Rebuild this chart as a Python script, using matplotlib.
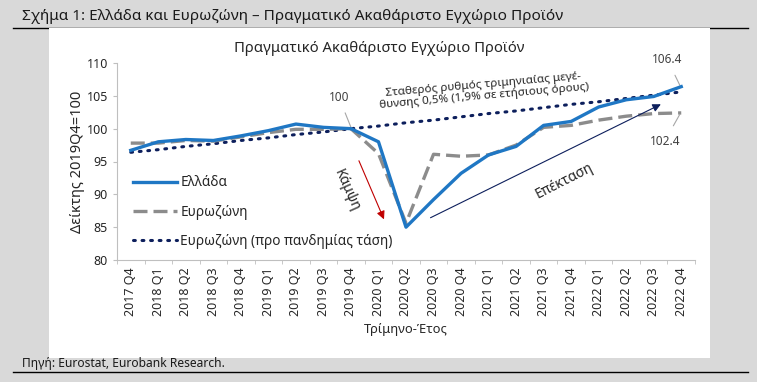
import numpy as np
import matplotlib.pyplot as plt
from matplotlib.patches import Rectangle
from matplotlib.lines import Line2D

plt.rcParams['font.family'] = ['Noto Sans', 'DejaVu Sans']

# quarters on the x axis
quarters = ['2017 Q4', '2018 Q1', '2018 Q2', '2018 Q3', '2018 Q4', '2019 Q1', '2019 Q2',
            '2019 Q3', '2019 Q4', '2020 Q1', '2020 Q2', '2020 Q3', '2020 Q4', '2021 Q1',
            '2021 Q2', '2021 Q3', '2021 Q4', '2022 Q1', '2022 Q2', '2022 Q3', '2022 Q4']

# index 2019Q4 = 100
greece = [96.7, 98.0, 98.35, 98.2, 98.9, 99.7, 100.7, 100.2, 100.0, 98.0, 85.0,
          89.2, 93.2, 96.0, 97.3, 100.5, 101.1, 103.3, 104.4, 104.9, 106.4]
eurozone = [97.8, 97.8, 98.2, 98.1, 98.75, 99.4, 99.9, 99.9, 100.0, 96.2, 85.6,
            96.1, 95.8, 96.0, 97.5, 100.2, 100.5, 101.3, 101.9, 102.3, 102.4]
trend = [96.4, 96.8, 97.3, 97.7, 98.2, 98.6, 99.1, 99.5, 100.0, 100.4, 100.9,
         101.3, 101.8, 102.3, 102.7, 103.2, 103.7, 104.1, 104.6, 105.1, 105.6]

blue = '#1f77c4'
grey = '#8c8c8c'
navy = '#0d1f5c'
txt = '#262626'

fig = plt.figure(figsize=(7.57, 3.82), dpi=100, facecolor='#d9d9d9')
W, H = 757.0, 382.0

# white panel and rules
fig.add_artist(Line2D([13/W, 748/W], [1-28/H, 1-28/H], color='black', lw=1.0, zorder=-2))
fig.add_artist(Line2D([13/W, 748/W], [1-372/H, 1-372/H], color='black', lw=1.0, zorder=-2))
fig.add_artist(Rectangle((49/W, 1-358/H), (710-49)/W, (358-28)/H, transform=fig.transFigure,
                         facecolor='white', edgecolor='none', zorder=-1))

fig.text(22/W, 1-17/H, 'Σχήμα 1: Ελλάδα και Ευρωζώνη – Πραγματικό Ακαθάριστο Εγχώριο Προϊόν',
         fontsize=11, color='#1a1a1a', va='center', ha='left')
fig.text(22/W, 1-364/H, 'Πηγή: Eurostat, Eurobank Research.', fontsize=8.7, color='#1a1a1a',
         va='center', ha='left')
fig.text(379/W, 1-48/H, 'Πραγματικό Ακαθάριστο Εγχώριο Προϊόν', fontsize=10.7, color=txt,
         ha='center', va='center')

ax = fig.add_axes([117/W, 1-260/H, (695-117)/W, (260-63)/H])
ax.set_facecolor('none')
x = np.arange(len(quarters))

ax.plot(x, greece, color=blue, lw=2.4, label='Ελλάδα', zorder=4)
ax.plot(x, eurozone, color=grey, lw=2.4, ls=(0, (4.2, 1.8)), label='Ευρωζώνη', zorder=3)
ax.plot(x, trend, color=navy, lw=2.2, ls=(0, (0.6, 2.2)), dash_capstyle='round',
        label='Ευρωζώνη (προ πανδημίας τάση)', zorder=2)

ax.set_xlim(-0.5, len(quarters) - 0.5)
ax.set_ylim(80, 110)
ax.set_yticks(np.arange(80, 111, 5))
ax.set_xticks(x)
ax.set_xticklabels(quarters, rotation=90, fontsize=9, color=txt)
ax.set_xticks(np.arange(-0.5, len(quarters), 1), minor=True)
ax.tick_params(axis='x', which='major', length=0, pad=5)
ax.tick_params(axis='x', which='minor', length=3, color='#bfbfbf')
ax.tick_params(axis='y', length=3, color='#bfbfbf', labelsize=9, labelcolor=txt)
for s in ['top', 'right']:
    ax.spines[s].set_visible(False)
for s in ['left', 'bottom']:
    ax.spines[s].set_color('#bfbfbf')

ax.set_ylabel('Δείκτης 2019Q4=100', fontsize=10.5, color=txt, labelpad=1)
ax.set_xlabel('Τρίμηνο-Έτος', fontsize=9.3, color=txt, labelpad=5)

ax.legend(loc='upper left', bbox_to_anchor=(0.028, 0.43), frameon=False, fontsize=9.8,
          handlelength=3.2, handletextpad=0.25, labelspacing=1.05, labelcolor=txt,
          borderpad=0, borderaxespad=0)

# annotations
ax.annotate('100', xy=(8, 100.2), xytext=(7.56, 104.8), fontsize=8.5, color='#404040',
            ha='center', va='center',
            arrowprops=dict(arrowstyle='-', color='#a6a6a6', lw=0.8, shrinkA=5, shrinkB=0))
ax.annotate('106.4', xy=(19.95, 106.6), xytext=(19.5, 110.5), fontsize=8.5, color='#404040',
            ha='center', va='center', annotation_clip=False,
            arrowprops=dict(arrowstyle='-', color='#a6a6a6', lw=0.8, shrinkA=5, shrinkB=0))
ax.annotate('102.4', xy=(19.95, 102.2), xytext=(19.4, 98.1), fontsize=8.5, color='#404040',
            ha='center', va='center',
            arrowprops=dict(arrowstyle='-', color='#a6a6a6', lw=0.8, shrinkA=5, shrinkB=0))

ax.annotate('', xy=(9.24, 85.8), xytext=(8.25, 95.5),
            arrowprops=dict(arrowstyle='-|>', color='#c00000', lw=0.8, mutation_scale=12))
ax.text(7.85, 90.6, 'Κάμψη', rotation=-66, fontsize=10, color=txt, ha='center', va='center')

ax.annotate('', xy=(19.35, 103.9), xytext=(10.8, 86.25),
            arrowprops=dict(arrowstyle='-|>', color=navy, lw=0.8, mutation_scale=12))
ax.text(15.75, 92.1, 'Επέκταση', rotation=27, fontsize=10, color=txt, ha='center', va='center')

ax.text(12.84, 105.8, 'Σταθερός ρυθμός τριμηνιαίας μεγέ-\nθυνσης 0,5% (1,9% σε ετήσιους όρους)',
        rotation=5, fontsize=8.4, color=txt, ha='center', va='center', multialignment='center',
        linespacing=1.0)

fig.savefig('out.png', dpi=100, facecolor=fig.get_facecolor())
